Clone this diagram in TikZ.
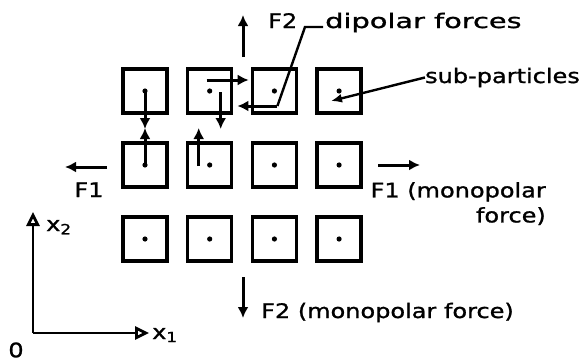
\documentclass[tikz,border=0pt]{standalone}
\usepackage{fontspec}
\setmainfont[FakeStretch=1.2, FakeBold=1.2]{DejaVu Sans}
\usetikzlibrary{arrows.meta}

\begin{document}
\begin{tikzpicture}[x = {(1pt,0pt)},
  y = {(0pt,-1pt)},
  cell/.style  = {draw, line width=3.4pt, minimum size=44pt, inner sep=0pt},
  force/.style = {-{Latex[length=11pt,width=11pt]}, line width=3pt},
  lead/.style  = {line width=2.4pt},
  lbl/.style   = {font=\fontsize{20}{25}\selectfont, inner sep=0pt}]

  \useasboundingbox (0,0) rectangle (582,362);

  % grid constants
  \def\xo{145}
  \def\dx{64.7}
  \def\yo{91}
  \def\dy{74}

  % sub-particles
  \foreach \i in {1,2,3}
  \foreach \j in {1,...,4}
  {
  \node[cell] (s\i\j) at (\xo+\dx*\j-\dx,\yo+\dy*\i-\dy) {};
  \fill (s\i\j.center) circle (2.6pt);
  }

  % dipolar forces
  \draw[force] (s11.center) -- ++(0,38);
  \draw[force] (s21.center) -- ++(0,-37);
  \draw[force] ([shift={(-11,1)}]s22.center) -- ++(0,-38);
  \draw[force] ([shift={(-3,-11)}]s12.center) -- ++(42,0);
  \draw[force] ([shift={(11,1)}]s12.center) -- ++(0,37);
  \draw[force] ([shift={(3,15)}]s13.center) coordinate (d0) -- ++(-40,0);

  % labels
  \node[lbl, anchor=base west, xscale=1.2] (dip) at (325,28) {dipolar forces};
  \node[lbl, anchor=base west] (f2t) at (268,28) {F2};
  \node[lbl, anchor=base east] (sub) at (580,83) {sub-particles};
  \node[lbl, anchor=base] (f1l) at (89,197) {F1};
  \node[lbl, anchor=north east, align=right] (f1r) at (546,182)
  {F1 (monopolar\\force)};
  \node[lbl, anchor=base west] (f2b) at (261,318) {F2 (monopolar force)};

  \draw[lead] (dip.base west) ++(-2,-1) -- ++(-18,0) -- (d0);
  \draw[lead, -{Latex[length=11pt,width=9pt]}] (sub.west) -- (331,101);

  % monopolar forces
  \coordinate (u0) at (243,57);
  \coordinate (l0) at (107,167);
  \coordinate (r0) at (378,165);
  \coordinate (b0) at (243,277);
  \draw[force] (u0) -- ++(0,-42);
  \draw[force] (l0) -- ++(-42,0);
  \draw[force] (r0) -- ++(42,0);
  \draw[force] (b0) -- ++(0,41);

  % axes
  \coordinate (o) at (33,333);
  \draw[line width=2.8pt, -{Triangle[open, length=14pt, width=13pt, line width=2.8pt]}]
  (o) -- ++(116,0);
  \draw[line width=2.8pt, -{Triangle[open, length=14pt, width=13pt, line width=2.8pt]}]
  (o) -- ++(0,-121);
  \node[lbl, anchor=base west] (x1) at (152,339) {x\textsubscript{1}};
  \node[lbl, anchor=base west] (x2) at (46,231) {x\textsubscript{2}};
  \node[lbl] (zero) at (16,350) {0};

\end{tikzpicture}
\end{document}
